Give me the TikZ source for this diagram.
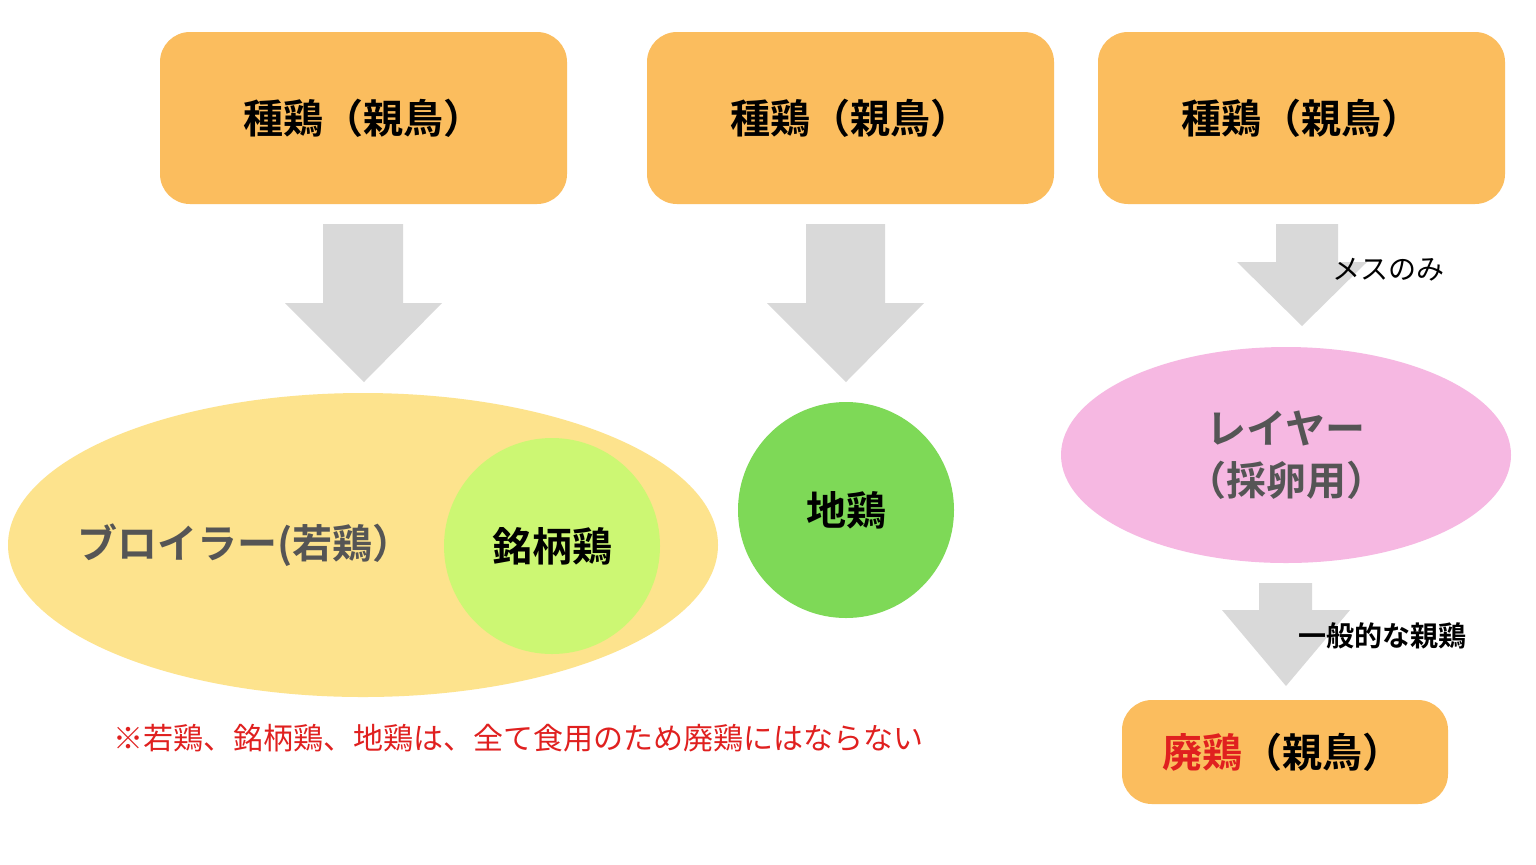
\documentclass[tikz,border=0pt]{standalone}
\usepackage{fontspec}
\newfontfamily\jp{Noto Sans CJK JP}
\newfontfamily\jpb{Noto Sans CJK JP Bold}
\definecolor{org}{HTML}{FBBD5E}
\definecolor{arr}{HTML}{D9D9D9}
\definecolor{ylw}{HTML}{FDE38D}
\definecolor{lim}{HTML}{CCF773}
\definecolor{grn}{HTML}{7ED957}
\definecolor{pnk}{HTML}{F6B8E2}
\definecolor{txg}{HTML}{555555}
\definecolor{rd}{HTML}{E0201F}
\begin{document}
\begin{tikzpicture}[x=0.5pt,y=-0.5pt,
 box/.style={fill=org,rounded corners=15pt,draw=none},
 btxt/.style={font=\jpb\fontsize{20}{24}\selectfont,text=black},
 garr/.style={fill=arr,draw=none}]
\useasboundingbox (0,0) rectangle (1536,864);
\fill[white] (0,0) rectangle (1536,864);
% top boxes
\fill[box] (160,32) rectangle (567,204);
\node[btxt] (b1) at (363,118) {種鶏（親鳥）};
\fill[box] (647,32) rectangle (1054,204);
\node[btxt] (b2) at (850,118) {種鶏（親鳥）};
\fill[box] (1098,32) rectangle (1505,204);
\node[btxt] (b3) at (1301,118) {種鶏（親鳥）};
% arrows
\fill[garr] (323,224)--(403,224)--(403,303)--(442,303)--(364,382)--(285,303)--(323,303)--cycle;
\fill[garr] (806,224)--(885,224)--(885,303)--(924,303)--(846,382)--(767,303)--(806,303)--cycle;
\fill[garr] (1276,224)--(1338,224)--(1338,262)--(1367,262)--(1302,326)--(1237,262)--(1276,262)--cycle;
\fill[garr] (1259,583)--(1312,583)--(1312,610)--(1350,610)--(1286,686)--(1222,610)--(1259,610)--cycle;
% shapes
\fill[ylw] (363,545) ellipse [x radius=355, y radius=152];
\node[font=\jpb\fontsize{20}{24}\selectfont,text=txg] (br) at (245,545) {ブロイラー(若鶏）};
\fill[lim] (552,546) circle [radius=108];
\node[btxt] (mg) at (552,546) {銘柄鶏};
\fill[grn] (846,510) circle [radius=108];
\node[btxt] (jd) at (846,510) {地鶏};
\fill[pnk] (1286,455) ellipse [x radius=225, y radius=108];
\node[font=\jpb\fontsize{20}{26}\selectfont,text=txg,align=center] (ly) at (1286,455) {レイヤー\\（採卵用）};
\fill[box] (1122,700) rectangle (1448,804);
\node[btxt] (hk) at (1282,752) {\textcolor{rd}{廃鶏}（親鳥）};
% labels
\node[font=\jp\fontsize{14}{16}\selectfont] (ms) at (1388,270) {メスのみ};
\node[font=\jpb\fontsize{14}{16}\selectfont] (ip) at (1382,636) {一般的な親鶏};
\node[font=\jp\fontsize{15}{18}\selectfont,text=rd] (nt) at (518,738) {※若鶏、銘柄鶏、地鶏は、全て食用のため廃鶏にはならない};
\end{tikzpicture}
\end{document}
